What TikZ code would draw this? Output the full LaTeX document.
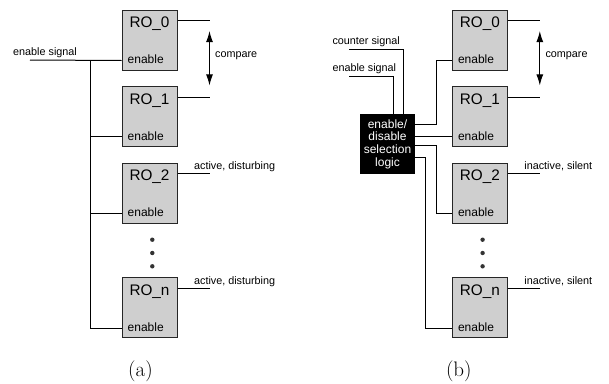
\documentclass[tikz,border=0pt]{standalone}
\usepackage{fontspec}
\usepackage{tikz}
\usetikzlibrary{calc}
\usetikzlibrary{positioning}
\usetikzlibrary{arrows.meta}
\newfontfamily\figfont{Liberation Sans}
\newcommand{\roname}{\figfont\fontsize{15.3}{18}\selectfont}
\newcommand{\rotext}{\figfont\fontsize{12}{12.8}\selectfont}
\newcommand{\sigtext}{\figfont\fontsize{10.8}{12}\selectfont}

\begin{document}
\begin{tikzpicture}[x=1pt,y=1pt,on grid,>={Latex[length=11pt,width=7pt]},
		ro/.style={rectangle,draw=black!85,fill=black!19,line width=1pt,minimum width=55pt,minimum height=60pt,inner sep=0pt},
		sel/.style={rectangle,fill=black,text=white,minimum width=55pt,minimum height=60pt,inner sep=0pt,align=center,font=\rotext},
		rolabel/.style={anchor=base,inner sep=0pt,font=\roname},
		enlabel/.style={anchor=base west,inner sep=0pt,font=\rotext},
		sig/.style={anchor=base west,inner sep=0pt,font=\sigtext},
		wire/.style={draw=black,line width=1pt},
		rodot/.style={circle,fill=black!80,minimum size=4.4pt,inner sep=0pt},
		subcap/.style={font=\fontsize{21}{24}\selectfont}]
		\useasboundingbox (0,0) rectangle (609,-383);
		
		% (a) all oscillators enabled together
		\node[ro]  (a0)   at (149.5,-40.3)          {};
		\node[ro]  (a1)   [below=76.4pt of a0]      {};
		\node[ro]  (a2)   [below=76.4pt of a1]      {};
		\node[ro]  (an)   [below=114.7pt of a2]     {};
		\node[rolabel] (a0name) at ([yshift=-18pt]a0.north) {RO\_0};
		\node[rolabel] (a1name) at ([yshift=-18pt]a1.north) {RO\_1};
		\node[rolabel] (a2name) at ([yshift=-18pt]a2.north) {RO\_2};
		\node[rolabel] (anname) at ([yshift=-18pt]an.north) {RO\_n};
		\node[enlabel] (a0en) at ([xshift=6pt,yshift=7pt]a0.south west) {enable};
		\node[enlabel] (a1en) at ([xshift=6pt,yshift=7pt]a1.south west) {enable};
		\node[enlabel] (a2en) at ([xshift=6pt,yshift=7pt]a2.south west) {enable};
		\node[enlabel] (anen) at ([xshift=6pt,yshift=7pt]an.south west) {enable};
		\node[rodot] (adot1) [below=13.7pt of a2.south,xshift=2.8pt] {};
		\node[rodot] (adot2) [below=13.3pt of adot1] {};
		\node[rodot] (adot3) [below=13.3pt of adot2] {};
		
		\coordinate (a0in) at ([yshift=10.3pt]a0.south west);
		\coordinate (a1in) at ([yshift=10.3pt]a1.south west);
		\coordinate (a2in) at ([yshift=10.3pt]a2.south west);
		\coordinate (anin) at ([yshift=10.3pt]an.south west);
		\coordinate (asig) at (30,-60);
		\coordinate (abus) at (90,-60);
		\node[sig] (asigtext) at ([xshift=-17pt,yshift=4.5pt]asig) {enable signal};
		\draw[wire] (asig) -- (a0in);
		\draw[wire] (abus) |- (anin);
		\draw[wire] (abus |- a1in) -- (a1in);
		\draw[wire] (abus |- a2in) -- (a2in);
		
		\coordinate (a0out) at ([yshift=-11pt]a0.north east);
		\coordinate (a1out) at ([yshift=-11pt]a1.north east);
		\coordinate (a2out) at ([yshift=-11pt]a2.north east);
		\coordinate (anout) at ([yshift=-11pt]an.north east);
		\coordinate (a0end) at ([xshift=32pt]a0out);
		\coordinate (a1end) at ([xshift=32pt]a1out);
		\draw[wire] (a0out) -- (a0end);
		\draw[wire] (a1out) -- (a1end);
		\draw[wire] (a2out) -- ++(32,0);
		\draw[wire] (anout) -- ++(32,0);
		\coordinate (acmpt) at ([yshift=-10.3pt]a0end);
		\coordinate (acmpb) at ([yshift=11.8pt]a1end);
		\draw[wire,<->] (acmpt) -- (acmpb);
		\node[anchor=west,inner sep=0pt,font=\sigtext] (acmp) at ([xshift=5.5pt,yshift=3pt]$(acmpt)!0.5!(acmpb)$) {compare};
		\node[sig] (a2state) at ([xshift=16.4pt,yshift=4.3pt]a2out) {active, disturbing};
		\node[sig] (anstate) at ([xshift=16.4pt,yshift=4.3pt]anout) {active, disturbing};
		
		\node[subcap] (capa) at (140.5,-371.7) {(a)};
		
		% (b) selection logic in front of the oscillators
		\node[ro]  (b0)   at (479.8,-40.3)          {};
		\node[ro]  (b1)   [below=76.4pt of b0]      {};
		\node[ro]  (b2)   [below=76.4pt of b1]      {};
		\node[ro]  (bn)   [below=114.7pt of b2]     {};
		\node[rolabel] (b0name) at ([yshift=-18pt]b0.north) {RO\_0};
		\node[rolabel] (b1name) at ([yshift=-18pt]b1.north) {RO\_1};
		\node[rolabel] (b2name) at ([yshift=-18pt]b2.north) {RO\_2};
		\node[rolabel] (bnname) at ([yshift=-18pt]bn.north) {RO\_n};
		\node[enlabel] (b0en) at ([xshift=6pt,yshift=7pt]b0.south west) {enable};
		\node[enlabel] (b1en) at ([xshift=6pt,yshift=7pt]b1.south west) {enable};
		\node[enlabel] (b2en) at ([xshift=6pt,yshift=7pt]b2.south west) {enable};
		\node[enlabel] (bnen) at ([xshift=6pt,yshift=7pt]bn.south west) {enable};
		\node[rodot] (bdot1) [below=13.7pt of b2.south,xshift=2.8pt] {};
		\node[rodot] (bdot2) [below=13.3pt of bdot1] {};
		\node[rodot] (bdot3) [below=13.3pt of bdot2] {};
		
		\node[sel] (logic) at (387.5,-144.2) {enable/\\disable\\selection\\logic};
		\coordinate (bcnt) at (349.3,-49);
		\coordinate (bsig) at (349.3,-76);
		\node[sig] (bcnttext) at ([xshift=-17pt,yshift=4.5pt]bcnt) {counter signal};
		\node[sig] (bsigtext) at ([xshift=-17pt,yshift=4.5pt]bsig) {enable signal};
		\draw[wire] (bcnt) -| ([xshift=16.2pt]logic.north);
		\draw[wire] (bsig) -| ([xshift=5.5pt]logic.north);
		
		\coordinate (b0in) at ([yshift=10.3pt]b0.south west);
		\coordinate (b1in) at ([yshift=10.3pt]b1.south west);
		\coordinate (b2in) at ([yshift=10.3pt]b2.south west);
		\coordinate (bnin) at ([yshift=10.3pt]bn.south west);
		\coordinate (bx1) at (436,0);
		\coordinate (bx2) at (425.3,0);
		\coordinate (lo1) at ([yshift=-10.7pt]logic.north east);
		\coordinate (lo2) at (logic.east |- b1in);
		\coordinate (lo3) at ([yshift=-31.7pt]logic.north east);
		\coordinate (lo4) at ([yshift=-43.7pt]logic.north east);
		\draw[wire] (lo1) -| (bx1 |- b0in) -- (b0in);
		\draw[wire] (lo2) -- (b1in);
		\draw[wire] (lo3) -| (bx1 |- b2in) -- (b2in);
		\draw[wire] (lo4) -| (bx2 |- bnin) -- (bnin);
		
		\coordinate (b0out) at ([yshift=-11pt]b0.north east);
		\coordinate (b1out) at ([yshift=-11pt]b1.north east);
		\coordinate (b2out) at ([yshift=-11pt]b2.north east);
		\coordinate (bnout) at ([yshift=-11pt]bn.north east);
		\coordinate (b0end) at ([xshift=32pt]b0out);
		\coordinate (b1end) at ([xshift=32pt]b1out);
		\draw[wire] (b0out) -- (b0end);
		\draw[wire] (b1out) -- (b1end);
		\draw[wire] (b2out) -- ++(32,0);
		\draw[wire] (bnout) -- ++(32,0);
		\coordinate (bcmpt) at ([yshift=-10.3pt]b0end);
		\coordinate (bcmpb) at ([yshift=11.8pt]b1end);
		\draw[wire,<->] (bcmpt) -- (bcmpb);
		\node[anchor=west,inner sep=0pt,font=\sigtext] (bcmp) at ([xshift=5.5pt,yshift=3pt]$(bcmpt)!0.5!(bcmpb)$) {compare};
		\node[sig] (b2state) at ([xshift=16.4pt,yshift=4.3pt]b2out) {inactive, silent};
		\node[sig] (bnstate) at ([xshift=16.4pt,yshift=4.3pt]bnout) {inactive, silent};
		
		\node[subcap] (capb) at (458.8,-371.7) {(b)};
\end{tikzpicture}
\end{document}
